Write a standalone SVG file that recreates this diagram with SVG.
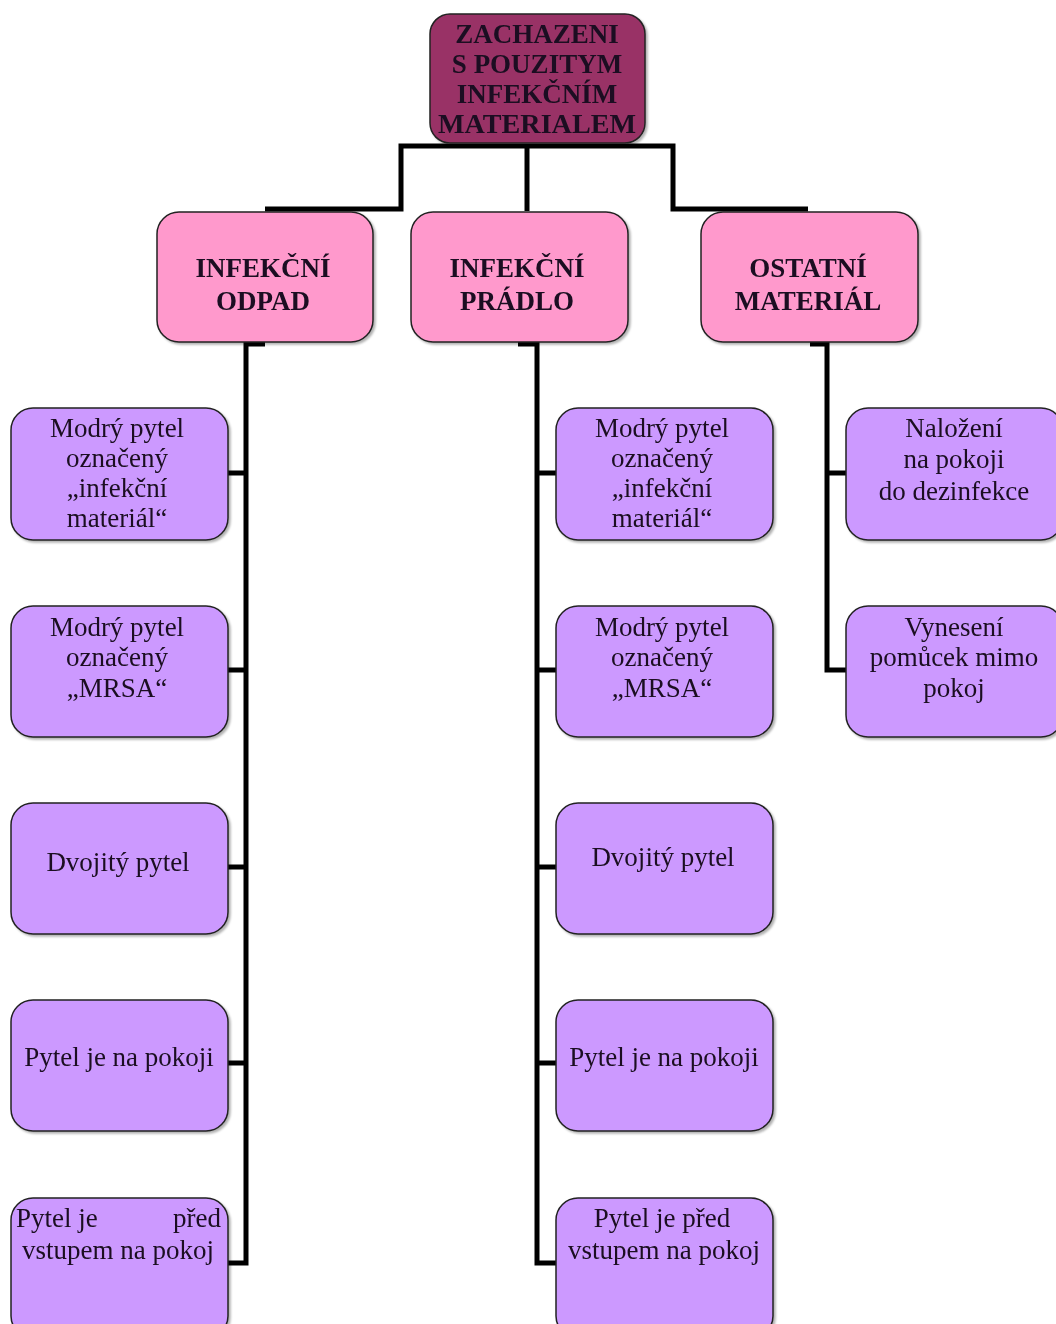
<svg xmlns="http://www.w3.org/2000/svg" width="1056" height="1324" viewBox="0 0 1056 1324">
  <style>
    .root { fill: #993366; stroke: #222; stroke-width: 1.5; }
    .cat { fill: #FF99CC; stroke: #222; stroke-width: 1.5; }
    .item { fill: #CC99FF; stroke: #222; stroke-width: 1.5; }
    text { font-family: "Liberation Serif", "Times New Roman", serif; fill: #1a1020; }
    .hd { font-size: 27px; font-weight: bold; text-anchor: middle; }
    .tx { font-size: 27px; text-anchor: middle; }
    .tx.l { text-anchor: start; }
    .tx.r { text-anchor: end; }
    .wire { fill: none; stroke: #000; stroke-width: 5; stroke-linejoin: miter; }
  </style>
  <defs>
    <filter id="shade" x="-5%" y="-5%" width="115%" height="115%">
      <feDropShadow dx="2" dy="2" stdDeviation="1" flood-color="#000" flood-opacity="0.3"/>
    </filter>
  </defs>

  <!-- connectors -->
  <g id="connectors" class="wire">
    <path d="M265,209 H401 V146 H673 V209 H808"/>
    <path d="M527,146 V211"/>
    <!-- left branch -->
    <path d="M265,344 H246 V1263 H228"/>
    <path d="M228,473 H246 M228,670 H246 M228,867 H246 M228,1063 H246"/>
    <!-- middle branch -->
    <path d="M518,344 H537 V1263 H556"/>
    <path d="M537,473 H556 M537,670 H556 M537,867 H556 M537,1063 H556"/>
    <!-- right branch -->
    <path d="M810,344 H827 V670 H846"/>
    <path d="M827,473 H846"/>
  </g>

  <!-- root -->
  <g id="root" filter="url(#shade)">
    <rect class="root" x="430" y="14" width="215" height="129" rx="20"/>
    <text class="hd" x="537" y="43">ZACHAZENI</text>
    <text class="hd" x="537" y="73">S POUZITYM</text>
    <text class="hd" x="537" y="103">INFEKČNÍM</text>
    <text class="hd" x="537" y="133" textLength="198" lengthAdjust="spacingAndGlyphs">MATERIALEM</text>
  </g>

  <!-- categories -->
  <g id="odpad" filter="url(#shade)">
    <rect class="cat" x="157" y="212" width="216" height="130" rx="22"/>
    <text class="hd" x="263" y="277">INFEKČNÍ</text>
    <text class="hd" x="263" y="310">ODPAD</text>
  </g>
  <g id="pradlo" filter="url(#shade)">
    <rect class="cat" x="411" y="212" width="217" height="130" rx="22"/>
    <text class="hd" x="517" y="277">INFEKČNÍ</text>
    <text class="hd" x="517" y="310">PRÁDLO</text>
  </g>
  <g id="ostatni" filter="url(#shade)">
    <rect class="cat" x="701" y="212" width="217" height="130" rx="22"/>
    <text class="hd" x="808" y="277">OSTATNÍ</text>
    <text class="hd" x="808" y="310">MATERIÁL</text>
  </g>

  <!-- left column -->
  <g id="odpad-1" filter="url(#shade)">
    <rect class="item" x="11" y="408" width="217" height="132" rx="22"/>
    <text class="tx" x="117" y="437">Modrý pytel</text>
    <text class="tx" x="117" y="467">označený</text>
    <text class="tx" x="117" y="497">„infekční</text>
    <text class="tx" x="117" y="527">materiál“</text>
  </g>
  <g id="odpad-2" filter="url(#shade)">
    <rect class="item" x="11" y="606" width="217" height="131" rx="22"/>
    <text class="tx" x="117" y="636">Modrý pytel</text>
    <text class="tx" x="117" y="666">označený</text>
    <text class="tx" x="117" y="697">„MRSA“</text>
  </g>
  <g id="odpad-3" filter="url(#shade)">
    <rect class="item" x="11" y="803" width="217" height="131" rx="22"/>
    <text class="tx" x="118" y="871">Dvojitý pytel</text>
  </g>
  <g id="odpad-4" filter="url(#shade)">
    <rect class="item" x="11" y="1000" width="217" height="131" rx="22"/>
    <text class="tx" x="119" y="1066">Pytel je na pokoji</text>
  </g>
  <g id="odpad-5" filter="url(#shade)">
    <rect class="item" x="11" y="1198" width="217" height="140" rx="22"/>
    <text class="tx l" x="16" y="1227">Pytel je</text>
    <text class="tx r" x="221" y="1227">před</text>
    <text class="tx" x="118" y="1259">vstupem na pokoj</text>
  </g>

  <!-- middle column -->
  <g id="pradlo-1" filter="url(#shade)">
    <rect class="item" x="556" y="408" width="217" height="132" rx="22"/>
    <text class="tx" x="662" y="437">Modrý pytel</text>
    <text class="tx" x="662" y="467">označený</text>
    <text class="tx" x="662" y="497">„infekční</text>
    <text class="tx" x="662" y="527">materiál“</text>
  </g>
  <g id="pradlo-2" filter="url(#shade)">
    <rect class="item" x="556" y="606" width="217" height="131" rx="22"/>
    <text class="tx" x="662" y="636">Modrý pytel</text>
    <text class="tx" x="662" y="666">označený</text>
    <text class="tx" x="662" y="697">„MRSA“</text>
  </g>
  <g id="pradlo-3" filter="url(#shade)">
    <rect class="item" x="556" y="803" width="217" height="131" rx="22"/>
    <text class="tx" x="663" y="866">Dvojitý pytel</text>
  </g>
  <g id="pradlo-4" filter="url(#shade)">
    <rect class="item" x="556" y="1000" width="217" height="131" rx="22"/>
    <text class="tx" x="664" y="1066">Pytel je na pokoji</text>
  </g>
  <g id="pradlo-5" filter="url(#shade)">
    <rect class="item" x="556" y="1198" width="217" height="140" rx="22"/>
    <text class="tx" x="662" y="1227">Pytel je před</text>
    <text class="tx" x="664" y="1259">vstupem na pokoj</text>
  </g>

  <!-- right column -->
  <g id="ostatni-1" filter="url(#shade)">
    <rect class="item" x="846" y="408" width="217" height="132" rx="22"/>
    <text class="tx" x="954" y="437">Naložení</text>
    <text class="tx" x="954" y="468">na pokoji</text>
    <text class="tx" x="954" y="500">do dezinfekce</text>
  </g>
  <g id="ostatni-2" filter="url(#shade)">
    <rect class="item" x="846" y="606" width="217" height="131" rx="22"/>
    <text class="tx" x="954" y="636">Vynesení</text>
    <text class="tx" x="954" y="666">pomůcek mimo</text>
    <text class="tx" x="954" y="697">pokoj</text>
  </g>
</svg>
